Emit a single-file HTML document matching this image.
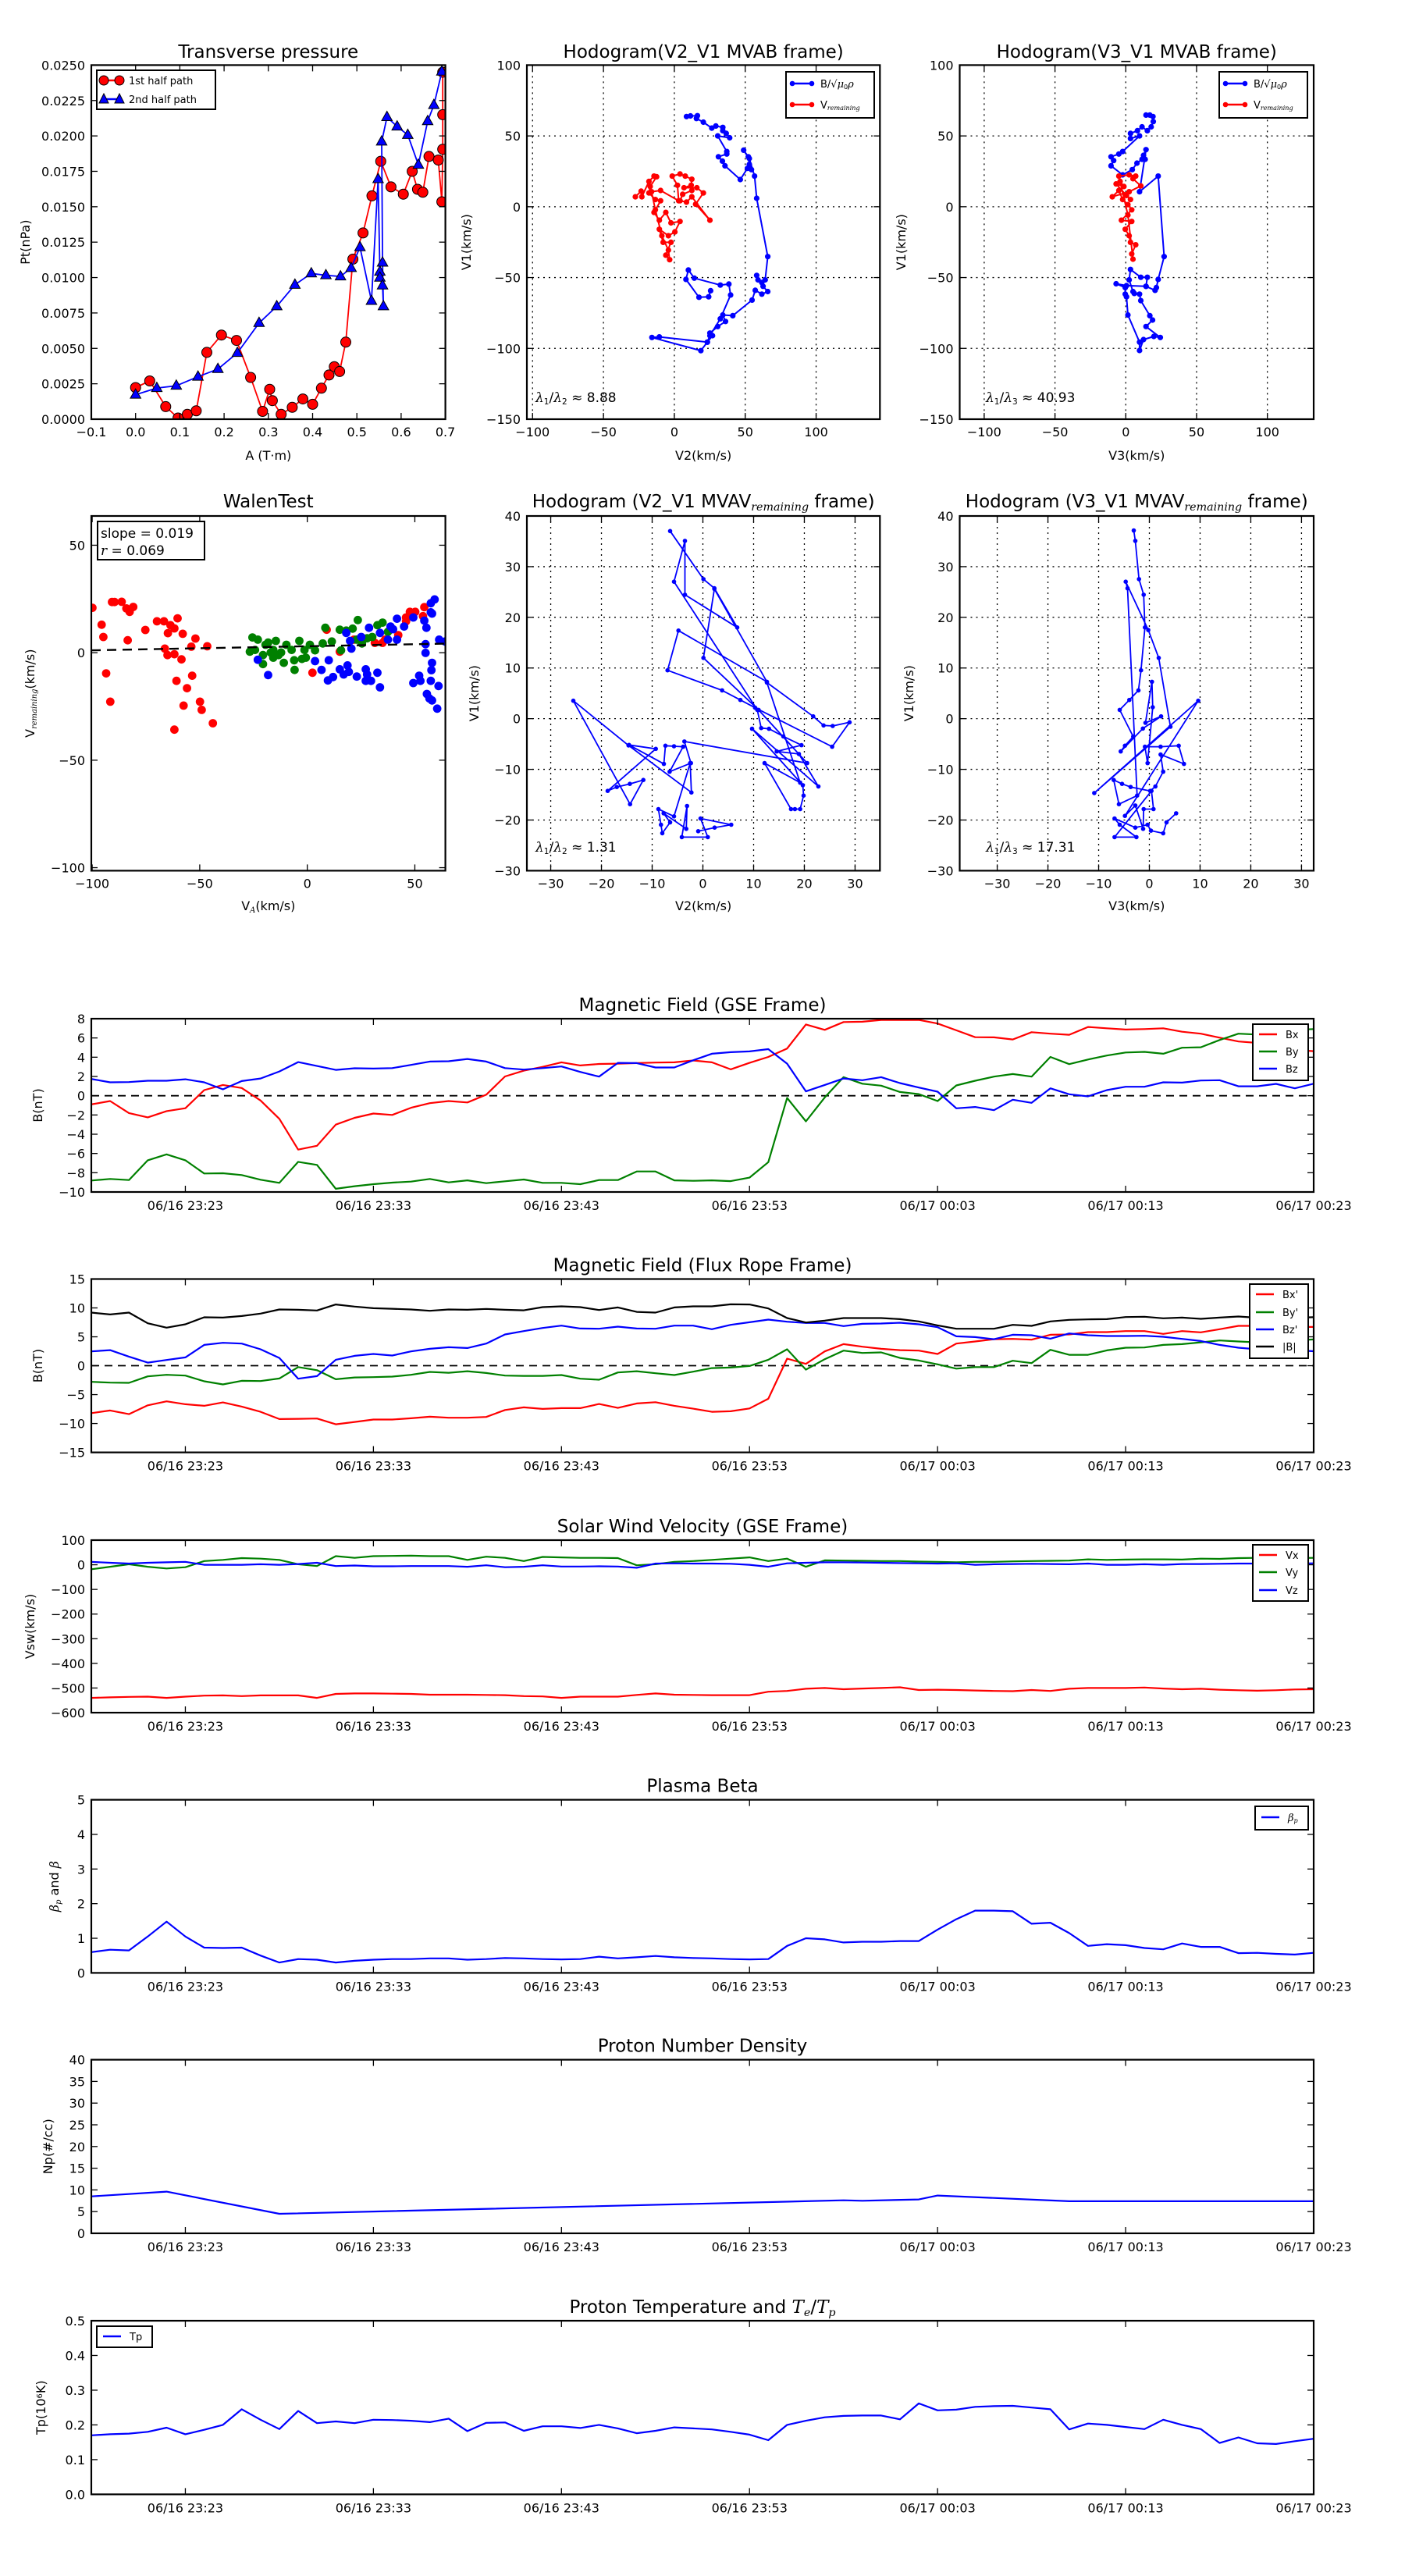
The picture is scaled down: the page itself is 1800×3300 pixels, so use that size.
<!DOCTYPE html>
<html><head><meta charset="utf-8"><title>Flux rope analysis</title>
<style>
html,body{margin:0;padding:0;background:#fff;}
svg{display:block;font-family:"DejaVu Sans","Liberation Sans",sans-serif;}
</style></head>
<body>
<svg id="fig" xmlns="http://www.w3.org/2000/svg" width="1800" height="3300" viewBox="0 0 1800 3300">
<rect x="0" y="0" width="1800" height="3300" fill="#fff"/>
</svg>
<script>
// ---------------- DATA ----------------
const p1A = [0.0,0.032,0.068,0.096,0.117,0.137,0.161,0.194,0.228,0.26,0.287,0.303,0.309,0.329,0.354,0.378,0.4,0.42,0.437,0.449,0.461,0.475,0.491,0.514,0.534,0.554,0.577,0.605,0.625,0.637,0.649,0.663,0.684,0.692,0.694,0.694,0.694];
const p1Pt = [0.00223,0.0027,0.00089,0.00008,0.00034,0.00059,0.00472,0.00594,0.00556,0.00295,0.00055,0.00211,0.00131,0.00034,0.00084,0.00143,0.00105,0.00219,0.00312,0.00371,0.00337,0.00544,0.0113,0.01315,0.01577,0.01821,0.0164,0.01589,0.0175,0.01623,0.01602,0.01855,0.0183,0.01535,0.01906,0.0215,0.0245];
const p2A = [0.0,0.048,0.092,0.141,0.186,0.23,0.279,0.319,0.36,0.397,0.43,0.463,0.487,0.507,0.533,0.548,0.552,0.552,0.558,0.56,0.558,0.556,0.568,0.591,0.615,0.639,0.66,0.674,0.692];
const p2Pt = [0.00173,0.0022,0.00236,0.003,0.00354,0.00468,0.00679,0.00797,0.00949,0.01029,0.01016,0.01008,0.01067,0.01214,0.00835,0.01695,0.01041,0.00999,0.00944,0.00797,0.01105,0.0196,0.02133,0.02066,0.02007,0.01796,0.02104,0.02218,0.02454];

const h1bV2 = [8.6,11.4,16.3,15.6,20.5,26.4,29.3,34.2,34.2,36.6,39.0,30.6,37.0,37.0,31.1,33.9,35.7,46.5,51.6,54.4,52.9,52.2,48.9,52.9,56.6,58.1,65.9,64.1,61.7,58.1,59.0,62.6,65.9,61.7,57.1,54.8,41.2,34.2,36.1,30.6,25.1,26.9,23.3,18.7,-15.8,-10.6,23.3,25.1,32.4,39.7,38.5,32.4,14.1,9.9,8.2,17.4,24.2,25.6];
const h1bV1 = [63.7,64.1,64.3,62.3,59.7,55.5,57.0,56.0,53.7,51.8,48.7,50.0,39.0,37.2,35.3,32.2,28.9,19.2,27.1,26.2,29.9,35.3,39.9,34.1,21.6,6.0,-35.2,-51.6,-53.5,-48.5,-51.6,-56.2,-59.9,-61.7,-59.0,-65.9,-76.9,-76.4,-81.0,-84.6,-89.2,-91.0,-95.6,-101.6,-92.3,-91.9,-95.6,-91.0,-79.1,-62.3,-54.6,-55.3,-50.4,-44.7,-51.3,-63.9,-63.6,-59.3];
const h1rV2 = [-27.5,-23.4,-22.9,-17.9,-14.3,-12.5,-17.0,-17.9,-13.4,-9.7,-14.3,-10.6,-6.0,-2.4,4.0,0.4,-4.2,-10.6,-7.9,-2.4,-6.0,-3.3,-4.2,-8.8,-13.4,-16.1,-9.7,3.1,2.2,-1.5,4.0,7.7,12.3,11.9,6.8,15.9,20.5,15.0,25.1,12.3,8.6,4.0,5.9,12.3];
const h1rV1 = [7.0,11.0,7.0,17.9,21.6,21.2,14.3,9.7,5.1,4.2,-4.0,-9.5,-4.0,-11.4,-10.4,-17.8,-20.5,-15.9,-25.1,-25.1,-34.2,-37.4,-30.6,-20.5,-2.2,10.6,11.5,4.2,15.2,21.6,23.1,21.6,19.4,15.2,13.4,13.4,9.7,1.8,-9.5,7.0,3.3,4.2,8.8,11.5];

const h2bV3 = [14.3,17.0,19.2,19.4,17.9,15.2,11.5,8.2,3.3,3.3,9.7,-2.2,-4.9,-10.4,-8.6,-10.4,-2.2,4.6,7.9,11.5,13.7,12.5,14.3,9.7,22.9,27.1,22.9,21.6,20.7,14.3,0.5,-6.8,-0.4,-0.4,0.5,1.5,9.7,9.7,12.5,19.8,24.4,14.3,18.9,17.0,10.6,9.7,6.0,5.1,2.4,3.3,10.6,15.2,14.3];
const h2bV1 = [64.7,64.7,63.7,60.1,56.4,53.7,56.4,53.7,51.8,48.2,50.0,39.0,37.2,35.3,32.6,28.9,22.5,26.2,30.8,33.5,33.5,36.3,40.3,10.6,21.6,-35.2,-51.3,-57.1,-59.0,-56.2,-55.7,-54.4,-57.1,-61.7,-63.6,-76.4,-95.6,-101.5,-93.8,-91.6,-92.3,-84.6,-80.0,-76.9,-66.3,-61.7,-61.2,-59.9,-51.6,-44.3,-49.8,-49.8,-56.2];
const h2rV3 = [-4.9,2.4,7.0,5.1,10.6,2.4,-9.5,-4.9,-2.2,1.5,4.2,-3.1,4.2,-0.4,2.4,3.3,7.0,4.2,5.1,1.5,-4.0,-1.3,-6.8,0.5,3.3];
const h2rV1 = [21.6,22.5,21.6,19.8,14.7,10.6,7.0,11.5,5.1,1.5,-2.2,-9.5,-10.4,-15.9,-20.5,-25.1,-26.9,-33.3,-37.0,-5.9,17.9,14.3,16.1,7.9,5.1];

const h3V2 = [-6.46,0.10,2.26,6.77,-3.54,-3.54,-5.69,10.72,11.49,13.03,15.85,19.44,14.56,18.92,22.77,9.69,19.69,19.85,19.18,18.15,17.38,12.15,19.18,12.62,21.74,23.79,25.59,28.92,25.49,10.31,7.38,3.79,-6.97,-4.82,12.62,2.26,0.10,10.97,20.56,-3.64,-2.36,-6.56,-3.9,-5.69,-7.38,-7.69,-14.56,-9.28,-18.77,-16.97,-14.41,-11.74,-14.36,-25.54,-14.67,-2.26,-2.51,-5.69,-8.77,-8.26,-8.0,-6.46,-7.74,-3.28,-3.13,-4.15,0.97,-0.46,5.59,2.31,-0.92];
const h3V1 = [37.03,27.54,25.74,18.0,24.46,35.08,27.03,1.74,-1.85,-2.0,-3.49,-5.23,-6.46,-6.97,-13.38,-2.0,-13.13,-15.18,-17.85,-17.85,-17.85,-8.77,-12.62,7.13,0.46,-1.33,-1.44,-0.72,-5.54,2.15,3.69,5.59,9.54,17.38,7.28,25.59,12.0,1.74,-8.77,-4.51,-8.77,-10.46,-5.54,-5.44,-5.33,-8.92,-5.18,-5.95,-14.26,-13.49,-12.87,-12.1,-16.87,3.54,-5.28,-14.56,-8.77,-19.28,-17.85,-20.92,-22.6,-20.46,-18.67,-21.74,-17.23,-23.38,-23.38,-19.69,-20.92,-21.49,-22.21];

const h4V3 = [-3.08,-2.77,-2.05,-1.13,-0.87,-1.64,-2.15,-3.95,-5.85,-3.18,-4.82,-5.64,-1.28,2.31,-0.77,0.51,0.67,-0.36,-0.87,2.21,5.79,6.82,2.21,2.72,1.18,0.15,-3.69,-5.38,-7.03,-6.0,-2.41,-4.31,-4.67,-0.21,1.85,4.15,-10.87,9.64,-4.82,-2.77,-1.23,-1.13,0.82,0.41,-6.87,-2.56,-5.85,-6.87,-2.77,-0.36,0.31,2.72,3.38,5.28];
const h4V1 = [37.13,35.08,27.54,24.46,18.0,9.54,5.59,3.69,1.74,-3.54,-5.33,-6.46,-1.95,0.46,-0.82,7.28,2.26,-8.77,-5.54,-5.54,-5.33,-8.92,-7.08,-10.46,-13.38,-14.26,-13.49,-12.87,-12.1,-16.87,-15.18,25.74,27.03,17.49,12.0,-1.59,-14.67,3.54,-19.18,-17.13,-21.74,-17.85,-17.85,-14.26,-23.38,-23.38,-20.92,-19.69,-21.49,-20.92,-22.1,-22.62,-20.46,-18.67];

const walenRedVA = [-99.9,-90.8,-89.6,-86.3,-84.1,-82.6,-80.9,-95.6,-94.8,-83.5,-75.3,-69.9,-66.6,-63.6,-61.8,-64.8,-60.3,-57.9,-52.0,-53.9,-46.5,-66.2,-65.0,-61.8,-58.5,-93.5,-91.6,-60.8,-55.9,-53.5,-57.5,-49.9,-49.1,-43.9,-61.8,2.4,9.0,15.1,21.7,31.4,35.0,42.3,45.9,47.7,50.2,53.8,54.4,45.9,36.2];
const walenRedV = [20.9,23.6,23.6,23.7,20.6,19.0,21.3,13.0,7.3,5.8,10.6,14.6,14.6,12.8,11.3,9.1,16.0,8.8,6.6,2.8,3.0,1.9,-1.1,-0.7,-3.1,-9.6,-22.8,-13.1,-16.5,-10.7,-24.6,-22.8,-26.6,-32.8,-35.8,-9.3,10.7,0.5,6.1,4.6,4.6,8.2,16.4,19.0,19.0,17.0,21.2,14.6,6.1];
const walenGreenVA = [-25.5,-23.0,-24.3,-26.7,-20.6,-19.4,-18.2,-14.6,-17.0,-15.8,-13.4,-10.9,-9.7,-7.3,-6.1,-5.9,-3.7,-2.5,-0.7,1.2,3.6,-1.3,-20.6,7.2,8.4,11.4,15.1,15.7,18.1,21.1,23.5,22.9,25.4,27.8,30.2,32.6,35.0,37.5,-12.2,-15.8];
const walenGreenV = [7.1,6.1,1.3,0.5,-1.1,3.7,4.7,5.5,0.1,-2.3,-1.1,-4.7,3.7,1.3,-3.5,-8.0,5.5,-2.9,-2.3,3.7,1.1,1.3,-5.3,4.3,11.6,5.2,10.7,1.1,10.3,11.2,15.2,6.1,4.3,6.7,7.3,12.8,14.0,9.7,0.1,1.3];
const walenBlueVA = [-23.0,-18.2,3.6,6.6,10.0,9.6,12.0,15.1,16.9,18.7,19.3,23.0,27.2,27.8,29.6,32.6,33.8,27.2,18.1,20.5,19.9,25.1,28.7,33.8,37.5,38.7,41.7,41.7,45.0,49.3,39.9,54.4,55.4,57.4,57.4,59.2,55.0,55.0,58.0,57.7,52.0,49.3,52.6,57.4,61.0,55.6,56.8,58.0,60.4,61.3,64.1,58.0];
const walenBlueV = [-3.3,-10.4,-3.9,-8.0,-3.5,-12.9,-11.3,-7.7,-10.1,-5.9,-8.9,-11.1,-7.7,-10.1,-13.1,-9.3,-16.1,-13.1,9.2,1.9,5.5,7.3,11.6,9.2,6.1,12.2,6.1,15.8,12.2,16.4,10.9,14.9,11.6,18.8,23.0,24.8,3.97,-0.1,-4.7,-8.1,-10.7,-14.1,-13.1,-13.1,-15.5,-19.2,-21.3,-22.2,-26.0,6.1,5.2,18.2];
const walenSlope = 0.019;
const walenIntercept = 3.0;

const timeTickLabels = ["06/16 23:23","06/16 23:33","06/16 23:43","06/16 23:53","06/17 00:03","06/17 00:13","06/17 00:23"];
const timeTickMinutes = [5,15,25,35,45,55,65];
const gseBx = [-0.9,-0.55,-1.8,-2.25,-1.6,-1.3,0.58,1.12,0.8,-0.5,-2.4,-5.6,-5.2,-3.0,-2.3,-1.85,-2.0,-1.25,-0.77,-0.55,-0.7,0.1,2.0,2.6,3.0,3.47,3.14,3.3,3.33,3.39,3.44,3.47,3.66,3.47,2.74,3.41,4.03,4.9,7.4,6.84,7.65,7.68,7.87,7.87,7.87,7.5,6.79,6.08,6.06,5.84,6.6,6.44,6.33,7.14,7.0,6.87,6.92,7.0,6.65,6.44,6.03,5.63,5.49,5.17,4.76,4.63];
const gseBy = [-8.81,-8.65,-8.76,-6.71,-6.09,-6.71,-8.08,-8.05,-8.24,-8.73,-9.05,-6.87,-7.19,-9.67,-9.4,-9.19,-9.03,-8.92,-8.65,-9.0,-8.79,-9.08,-8.89,-8.7,-9.05,-9.05,-9.19,-8.76,-8.76,-7.87,-7.87,-8.79,-8.84,-8.79,-8.87,-8.51,-6.9,-0.23,-2.66,-0.18,1.93,1.25,1.04,0.39,0.17,-0.55,1.07,1.55,1.98,2.25,1.98,4.03,3.28,3.76,4.17,4.49,4.55,4.36,4.98,5.03,5.79,6.44,6.35,6.73,6.84,6.92];
const gseBz = [1.74,1.39,1.42,1.55,1.55,1.71,1.39,0.66,1.52,1.79,2.52,3.49,3.09,2.68,2.85,2.82,2.87,3.2,3.55,3.58,3.82,3.55,2.87,2.71,2.87,3.04,2.47,1.98,3.41,3.39,2.93,2.93,3.68,4.36,4.52,4.6,4.84,3.33,0.45,1.12,1.79,1.61,1.93,1.31,0.85,0.42,-1.31,-1.17,-1.5,-0.42,-0.74,0.77,0.15,-0.07,0.58,0.93,0.93,1.39,1.36,1.58,1.61,0.98,0.98,1.23,0.77,1.25];
const frBx = [-8.2,-7.75,-8.38,-6.85,-6.17,-6.67,-6.94,-6.35,-7.07,-7.97,-9.23,-9.19,-9.14,-10.14,-9.73,-9.32,-9.32,-9.1,-8.83,-9.0,-9.0,-8.87,-7.66,-7.2,-7.48,-7.34,-7.34,-6.62,-7.3,-6.53,-6.31,-6.94,-7.43,-7.97,-7.88,-7.39,-5.72,1.22,0.32,2.48,3.74,3.29,2.93,2.7,2.61,2.03,3.83,4.19,4.59,4.64,4.5,5.36,5.41,5.81,5.81,5.99,5.99,5.5,5.99,5.77,6.31,6.89,6.9,6.6,6.7,6.7];
const frBy = [-2.79,-2.93,-2.97,-1.85,-1.58,-1.71,-2.7,-3.24,-2.61,-2.66,-2.21,-0.23,-0.77,-2.34,-2.03,-1.98,-1.89,-1.58,-1.08,-1.22,-0.95,-1.26,-1.71,-1.76,-1.76,-1.62,-2.25,-2.43,-1.17,-0.95,-1.31,-1.62,-1.04,-0.41,-0.32,-0.05,1.04,2.84,-0.68,1.13,2.61,2.21,2.3,1.35,0.9,0.23,-0.5,-0.23,-0.23,0.86,0.45,2.75,1.89,1.89,2.66,3.11,3.15,3.6,3.74,4.05,4.37,4.19,4.05,4.05,4.37,4.55];
const frBz = [2.48,2.7,1.58,0.54,0.99,1.44,3.6,3.96,3.83,2.84,1.35,-2.25,-1.8,1.04,1.71,2.03,1.76,2.48,2.93,3.2,3.06,3.83,5.41,5.99,6.53,6.94,6.44,6.4,6.76,6.44,6.4,6.94,6.94,6.31,7.07,7.52,7.97,7.61,7.39,7.39,6.85,7.25,7.3,7.43,7.16,6.67,5.09,4.95,4.59,5.36,5.27,4.68,5.59,5.27,5.14,5.14,5.18,5.0,4.64,4.28,3.6,3.11,2.84,2.6,2.7,2.5];
const frBt = [9.19,8.87,9.19,7.34,6.58,7.16,8.38,8.33,8.6,9.01,9.73,9.68,9.55,10.59,10.23,9.95,9.86,9.73,9.5,9.73,9.68,9.82,9.68,9.59,10.14,10.27,10.14,9.64,10.09,9.32,9.19,10.09,10.27,10.27,10.63,10.59,9.91,8.24,7.48,7.79,8.24,8.24,8.24,8.06,7.66,6.98,6.4,6.4,6.4,7.07,6.89,7.66,7.93,8.02,8.06,8.42,8.47,8.2,8.33,8.11,8.33,8.51,8.3,8.4,8.3,8.4];
const vswVx = [-540,-538,-536,-535,-540,-535,-531,-530,-533,-530,-530,-530,-540,-524,-522,-522,-523,-524,-527,-527,-527,-528,-529,-533,-534,-540,-535,-535,-535,-528,-522,-527,-528,-529,-529,-529,-515,-512,-503,-500,-505,-502,-500,-497,-508,-507,-508,-510,-512,-513,-508,-512,-503,-500,-500,-500,-498,-502,-505,-503,-507,-509,-511,-509,-506,-505];
const vswVy = [-18,-8,2,-8,-15,-10,15,20,27,25,20,2,-5,35,28,35,36,37,35,35,20,33,28,15,32,30,28,28,27,-2,2,12,15,20,25,30,15,25,-8,18,17,16,15,15,13,12,10,12,12,14,15,16,17,22,20,21,22,22,21,25,24,27,28,28,27,28];
const vswVz = [12,8,5,8,10,12,0,0,0,2,0,3,8,-5,-3,-6,-6,-5,-5,-5,-8,-2,-10,-8,-2,-7,-7,-6,-7,-12,5,6,5,5,4,0,-8,6,8,10,10,9,8,7,6,5,6,0,2,3,4,3,2,5,0,0,2,0,3,3,4,5,5,7,5,6];
const betaP = [0.6,0.67,0.65,1.05,1.48,1.05,0.73,0.72,0.73,0.5,0.3,0.4,0.38,0.3,0.35,0.38,0.4,0.4,0.42,0.42,0.38,0.4,0.43,0.42,0.4,0.39,0.4,0.47,0.42,0.45,0.49,0.45,0.43,0.42,0.4,0.39,0.4,0.78,1.0,0.97,0.88,0.9,0.9,0.92,0.92,1.25,1.55,1.8,1.8,1.78,1.42,1.45,1.15,0.78,0.83,0.8,0.72,0.68,0.85,0.75,0.75,0.57,0.58,0.55,0.53,0.58];
const npMinutes = [0,4,10,40,41,44,45,52,65];
const npValues = [8.5,9.6,4.5,7.6,7.5,7.8,8.7,7.4,7.4];
const tpValues = [0.17,0.173,0.175,0.18,0.192,0.173,0.186,0.2,0.245,0.215,0.188,0.24,0.205,0.21,0.205,0.215,0.214,0.212,0.208,0.218,0.182,0.206,0.207,0.183,0.196,0.196,0.191,0.2,0.19,0.176,0.183,0.193,0.19,0.187,0.18,0.172,0.156,0.2,0.212,0.222,0.226,0.227,0.227,0.216,0.262,0.242,0.244,0.252,0.254,0.255,0.25,0.245,0.187,0.204,0.2,0.194,0.188,0.215,0.2,0.188,0.148,0.164,0.147,0.145,0.153,0.16];

// ---------------- DRAWING ----------------
const NS = 'http://www.w3.org/2000/svg';
const svg = document.getElementById('fig');
const TITLE = 23;
function el(tag, parent){ const e = document.createElementNS(NS, tag); parent.appendChild(e); return e; }
function fmtNum(v, d){ const s = Math.abs(v).toFixed(d); return (v < -1e-12 ? '\u2212' : '') + s; }
function rng(a,b,s){ const r=[]; for(let v=a; v<=b+1e-9; v+=s) r.push(+v.toFixed(6)); return r; }

function addText(parent, name, x, y, parts, size, anchor, rot){
  const t = el('text', parent);
  
  
  t.setAttribute('x', x); t.setAttribute('y', y);
  t.setAttribute('font-size', size);
  t.setAttribute('text-anchor', anchor || 'start');
  t.setAttribute('fill', '#000');
  if (rot) t.setAttribute('transform', 'rotate(-90 ' + x + ' ' + y + ')');
  if (typeof parts === 'string') { t.textContent = parts; return t; }
  parts.forEach(p => {
    const s = el('tspan', t);
    s.textContent = p[0];
    const k = p[1] || '';
    if (k.indexOf('it') >= 0) { s.setAttribute('font-style', 'italic'); s.setAttribute('font-family', 'DejaVu Serif, Liberation Serif, serif'); }
    if (k.indexOf('sub') >= 0) { s.setAttribute('font-size', size * 0.62); s.setAttribute('baseline-shift', '-25%'); }
    if (k === 'sup') { s.setAttribute('font-size', size * 0.62); s.setAttribute('baseline-shift', '40%'); }
  });
  return t;
}

let clipN = 0;
function makeAxes(name, L, T, R, B, xlim, ylim){
  const g = el('g', svg);
  
  
  const id = 'clip' + (clipN++);
  const cp = el('clipPath', g); cp.setAttribute('id', id);
  const cr = el('rect', cp); cr.setAttribute('x', L); cr.setAttribute('y', T); cr.setAttribute('width', R-L); cr.setAttribute('height', B-T);
  const data = el('g', g);
  data.setAttribute('clip-path', 'url(#' + id + ')');
  
  
  return { g, data, L, T, R, B,
    sx: v => L + (v - xlim[0]) / (xlim[1] - xlim[0]) * (R - L),
    sy: v => B - (v - ylim[0]) / (ylim[1] - ylim[0]) * (B - T) };
}

function ticks(ax, xt, xl, yt, yl, grid, xlabY){
  const g = el('g', ax.g);
  
  
  xt.forEach((v,i) => {
    const x = ax.sx(v);
    if (grid) { const gl = el('line', ax.data);  
      gl.setAttribute('x1',x); gl.setAttribute('x2',x); gl.setAttribute('y1',ax.T); gl.setAttribute('y2',ax.B);
      gl.setAttribute('stroke','#000'); gl.setAttribute('stroke-width','1.3'); gl.setAttribute('stroke-dasharray','2,5'); }
    [[ax.B, ax.B-8],[ax.T, ax.T+8]].forEach(p => { const l = el('line', g);
      l.setAttribute('x1',x); l.setAttribute('x2',x); l.setAttribute('y1',p[0]); l.setAttribute('y2',p[1]);
      l.setAttribute('stroke','#000'); l.setAttribute('stroke-width','1.3'); });
    addText(g, 'x-tick-label', x, ax.B + (xlabY || 22), xl[i], 16, 'middle');
  });
  yt.forEach((v,i) => {
    const y = ax.sy(v);
    if (grid) { const gl = el('line', ax.data);  
      gl.setAttribute('x1',ax.L); gl.setAttribute('x2',ax.R); gl.setAttribute('y1',y); gl.setAttribute('y2',y);
      gl.setAttribute('stroke','#000'); gl.setAttribute('stroke-width','1.3'); gl.setAttribute('stroke-dasharray','2,5'); }
    [[ax.L, ax.L+8],[ax.R, ax.R-8]].forEach(p => { const l = el('line', g);
      l.setAttribute('y1',y); l.setAttribute('y2',y); l.setAttribute('x1',p[0]); l.setAttribute('x2',p[1]);
      l.setAttribute('stroke','#000'); l.setAttribute('stroke-width','1.3'); });
    addText(g, 'y-tick-label', ax.L - 8, y + 6, yl[i], 16, 'end');
  });
}
function frame(ax){
  const r = el('rect', ax.g);
  
  
  r.setAttribute('x', ax.L); r.setAttribute('y', ax.T); r.setAttribute('width', ax.R-ax.L); r.setAttribute('height', ax.B-ax.T);
  r.setAttribute('fill','none'); r.setAttribute('stroke','#000'); r.setAttribute('stroke-width','2.2');
}
function line(ax, name, xs, ys, color, w, dash){
  const p = el('polyline', ax.data);
  
  
  p.setAttribute('points', xs.map((x,i) => ax.sx(x).toFixed(1) + ',' + ax.sy(ys[i]).toFixed(1)).join(' '));
  p.setAttribute('fill','none'); p.setAttribute('stroke', color); p.setAttribute('stroke-width', w);
  p.setAttribute('stroke-linejoin','round');
  if (dash) p.setAttribute('stroke-dasharray', dash);
  return p;
}
function dots(ax, name, xs, ys, color, r, edge){
  const g = el('g', ax.data);
  
  
  xs.forEach((x,i) => { const c = el('circle', g);
    
    
    c.setAttribute('cx', ax.sx(x).toFixed(1)); c.setAttribute('cy', ax.sy(ys[i]).toFixed(1)); c.setAttribute('r', r);
    c.setAttribute('fill', color); if (edge) { c.setAttribute('stroke', edge); c.setAttribute('stroke-width','1'); } });
}
function tris(ax, name, xs, ys, color, s){
  const g = el('g', ax.data);
  
  
  xs.forEach((x,i) => { const cx = ax.sx(x), cy = ax.sy(ys[i]); const p = el('polygon', g);
    
    
    p.setAttribute('points', cx+','+(cy-s)+' '+(cx-s*0.9)+','+(cy+s*0.6)+' '+(cx+s*0.9)+','+(cy+s*0.6));
    p.setAttribute('fill', color); p.setAttribute('stroke','#000'); p.setAttribute('stroke-width','1'); });
}
function legendBox(parent, x, y, w, h){
  const r = el('rect', parent);
  
  
  r.setAttribute('x', x); r.setAttribute('y', y); r.setAttribute('width', w); r.setAttribute('height', h);
  r.setAttribute('fill','#fff'); r.setAttribute('stroke','#000'); r.setAttribute('stroke-width','2');
}
function legLine(parent, x1, x2, y, color, marker){
  const l = el('line', parent);
  
  
  l.setAttribute('x1', x1); l.setAttribute('x2', x2); l.setAttribute('y1', y); l.setAttribute('y2', y);
  l.setAttribute('stroke', color); l.setAttribute('stroke-width', '2.4');
  if (marker) [x1, x2].forEach(cx => { const c = el('circle', parent); c.setAttribute('cx', cx); c.setAttribute('cy', y); c.setAttribute('r', marker); c.setAttribute('fill', color); });
}

const R1T = 83.4, R1B = 537, R2T = 661, R2B = 1115.4;
const CA = [117, 570.6], CB = [675, 1127.3], CC = [1229.5, 1683];

{
  const ax = makeAxes('transverse-pressure-chart', CA[0], R1T, CA[1], R1B, [-0.1,0.7], [0,0.025]);
  const xt = rng(-0.1,0.7,0.1), yt = rng(0,0.025,0.0025);
  ticks(ax, xt, xt.map(v => fmtNum(v,1)), yt, yt.map(v => v.toFixed(4)), false);
  line(ax, 'first-half-path-line', p1A, p1Pt, '#ff0000', 1.8);
  dots(ax, 'first-half-path', p1A, p1Pt, '#ff0000', 6.5, '#000');
  line(ax, 'second-half-path-line', p2A, p2Pt, '#0000ff', 1.8);
  tris(ax, 'second-half-path', p2A, p2Pt, '#0000ff', 7.5);
  frame(ax);
  addText(ax.g, 'chart-title', (CA[0]+CA[1])/2, 74, 'Transverse pressure', TITLE, 'middle');
  addText(ax.g, 'x-axis-title', (CA[0]+CA[1])/2, 589, 'A (T\u00b7m)', 16, 'middle');
  addText(ax.g, 'y-axis-title', 38, (R1T+R1B)/2, 'Pt(nPa)', 16, 'middle', true);
  const lg = el('g', ax.g);
  
  
  legendBox(lg, 124, 90, 152, 50);
  legLine(lg, 133, 153, 103, '#ff0000', 0);
  [133,153].forEach(cx => { const c = el('circle', lg); c.setAttribute('cx', cx); c.setAttribute('cy', 103); c.setAttribute('r', 6); c.setAttribute('fill','#ff0000'); c.setAttribute('stroke','#000'); });
  addText(lg, 'legend-entry', 165, 108, '1st half path', 13, 'start');
  legLine(lg, 133, 153, 127, '#0000ff', 0);
  [133,153].forEach(cx => { const p = el('polygon', lg); p.setAttribute('points', cx+','+(127-7)+' '+(cx-6)+','+(127+5)+' '+(cx+6)+','+(127+5)); p.setAttribute('fill','#0000ff'); p.setAttribute('stroke','#000'); });
  addText(lg, 'legend-entry', 165, 132, '2nd half path', 13, 'start');
}

function hodoLegend(ax, x){
  const lg = el('g', ax.g);
  
  
  legendBox(lg, x, 92, 113, 59);
  legLine(lg, x+8, x+33, 107, '#0000ff', 3.3);
  addText(lg, 'legend-entry', x+44, 112, [['B/\u221a',''],['\u03bc','it'],['0','sub'],['\u03c1','it']], 13, 'start');
  legLine(lg, x+8, x+33, 134, '#ff0000', 3.3);
  addText(lg, 'legend-entry', x+44, 139, [['V',''],['remaining','itsub']], 13, 'start');
}

{
  const ax = makeAxes('hodogram-v2-v1-mvab-chart', CB[0], R1T, CB[1], R1B, [-104,145], [-150,100]);
  const xt = [-100,-50,0,50,100], yt = [-150,-100,-50,0,50,100];
  ticks(ax, xt, xt.map(v => fmtNum(v,0)), yt, yt.map(v => fmtNum(v,0)), true);
  line(ax, 'b-field-path', h1bV2, h1bV1, '#0000ff', 2);
  dots(ax, 'b-field-points', h1bV2, h1bV1, '#0000ff', 3.6);
  line(ax, 'v-remaining-path', h1rV2, h1rV1, '#ff0000', 2);
  dots(ax, 'v-remaining-points', h1rV2, h1rV1, '#ff0000', 3.6);
  frame(ax);
  addText(ax.g, 'chart-title', (CB[0]+CB[1])/2, 74, 'Hodogram(V2_V1 MVAB frame)', TITLE, 'middle');
  addText(ax.g, 'x-axis-title', (CB[0]+CB[1])/2, 589, 'V2(km/s)', 16, 'middle');
  addText(ax.g, 'y-axis-title', 603, (R1T+R1B)/2, 'V1(km/s)', 16, 'middle', true);
  addText(ax.g, 'eigenvalue-ratio', 686, 515, [['\u03bb','it'],['1','sub'],['/',''],['\u03bb','it'],['2','sub'],[' \u2248 8.88','']], 17, 'start');
  hodoLegend(ax, 1007);
}
{
  const ax = makeAxes('hodogram-v3-v1-mvab-chart', CC[0], R1T, CC[1], R1B, [-117.3,132.7], [-150,100]);
  const xt = [-100,-50,0,50,100], yt = [-150,-100,-50,0,50,100];
  ticks(ax, xt, xt.map(v => fmtNum(v,0)), yt, yt.map(v => fmtNum(v,0)), true);
  line(ax, 'b-field-path', h2bV3, h2bV1, '#0000ff', 2);
  dots(ax, 'b-field-points', h2bV3, h2bV1, '#0000ff', 3.6);
  line(ax, 'v-remaining-path', h2rV3, h2rV1, '#ff0000', 2);
  dots(ax, 'v-remaining-points', h2rV3, h2rV1, '#ff0000', 3.6);
  frame(ax);
  addText(ax.g, 'chart-title', (CC[0]+CC[1])/2, 74, 'Hodogram(V3_V1 MVAB frame)', TITLE, 'middle');
  addText(ax.g, 'x-axis-title', (CC[0]+CC[1])/2, 589, 'V3(km/s)', 16, 'middle');
  addText(ax.g, 'y-axis-title', 1160, (R1T+R1B)/2, 'V1(km/s)', 16, 'middle', true);
  addText(ax.g, 'eigenvalue-ratio', 1263, 515, [['\u03bb','it'],['1','sub'],['/',''],['\u03bb','it'],['3','sub'],[' \u2248 40.93','']], 17, 'start');
  hodoLegend(ax, 1562);
}
{
  const ax = makeAxes('walen-test-chart', CA[0], R2T, CA[1], R2B, [-100.4,64.2], [-101.4,63.6]);
  const xt = [-100,-50,0,50], yt = [-100,-50,0,50];
  ticks(ax, xt, xt.map(v => fmtNum(v,0)), yt, yt.map(v => fmtNum(v,0)), false);
  dots(ax, 'walen-first-points', walenRedVA, walenRedV, '#ff0000', 5.4);
  dots(ax, 'walen-middle-points', walenGreenVA, walenGreenV, '#008000', 5.4);
  dots(ax, 'walen-last-points', walenBlueVA, walenBlueV, '#0000ff', 5.4);
  const fx = [-100.4, 64.2];
  line(ax, 'walen-fit-line', fx, fx.map(v => walenSlope*v + walenIntercept), '#000', 2.4, '12,8');
  frame(ax);
  addText(ax.g, 'chart-title', (CA[0]+CA[1])/2, 650, 'WalenTest', TITLE, 'middle');
  addText(ax.g, 'x-axis-title', (CA[0]+CA[1])/2, 1166, [['V',''],['A','itsub'],['(km/s)','']], 16, 'middle');
  addText(ax.g, 'y-axis-title', 44, (R2T+R2B)/2, [['V',''],['remaining','itsub'],['(km/s)','']], 16, 'middle', true);
  const bx = el('g', ax.g);
  
  
  legendBox(bx, 125, 668, 137, 49);
  addText(bx, 'slope-text', 129, 689, 'slope = 0.019', 17, 'start');
  addText(bx, 'r-text', 129, 711, [['r','it'],[' = 0.069','']], 17, 'start');
}
{
  const ax = makeAxes('hodogram-v2-v1-mvav-chart', CB[0], R2T, CB[1], R2B, [-34.7,34.9], [-30,40]);
  const xt = [-30,-20,-10,0,10,20,30], yt = [-30,-20,-10,0,10,20,30,40];
  ticks(ax, xt, xt.map(v => fmtNum(v,0)), yt, yt.map(v => fmtNum(v,0)), true);
  line(ax, 'v-path', h3V2, h3V1, '#0000ff', 1.8);
  dots(ax, 'v-points', h3V2, h3V1, '#0000ff', 2.8);
  frame(ax);
  addText(ax.g, 'chart-title', (CB[0]+CB[1])/2, 650, [['Hodogram (V2_V1 MVAV',''],['remaining','itsub'],[' frame)','']], TITLE, 'middle');
  addText(ax.g, 'x-axis-title', (CB[0]+CB[1])/2, 1166, 'V2(km/s)', 16, 'middle');
  addText(ax.g, 'y-axis-title', 613, (R2T+R2B)/2, 'V1(km/s)', 16, 'middle', true);
  addText(ax.g, 'eigenvalue-ratio', 686, 1091, [['\u03bb','it'],['1','sub'],['/',''],['\u03bb','it'],['2','sub'],[' \u2248 1.31','']], 17, 'start');
}
{
  const ax = makeAxes('hodogram-v3-v1-mvav-chart', CC[0], R2T, CC[1], R2B, [-37.4,32.4], [-30,40]);
  const xt = [-30,-20,-10,0,10,20,30], yt = [-30,-20,-10,0,10,20,30,40];
  ticks(ax, xt, xt.map(v => fmtNum(v,0)), yt, yt.map(v => fmtNum(v,0)), true);
  line(ax, 'v-path', h4V3, h4V1, '#0000ff', 1.8);
  dots(ax, 'v-points', h4V3, h4V1, '#0000ff', 2.8);
  frame(ax);
  addText(ax.g, 'chart-title', (CC[0]+CC[1])/2, 650, [['Hodogram (V3_V1 MVAV',''],['remaining','itsub'],[' frame)','']], TITLE, 'middle');
  addText(ax.g, 'x-axis-title', (CC[0]+CC[1])/2, 1166, 'V3(km/s)', 16, 'middle');
  addText(ax.g, 'y-axis-title', 1170, (R2T+R2B)/2, 'V1(km/s)', 16, 'middle', true);
  addText(ax.g, 'eigenvalue-ratio', 1263, 1091, [['\u03bb','it'],['1','sub'],['/',''],['\u03bb','it'],['3','sub'],[' \u2248 17.31','']], 17, 'start');
}

const TL = 117, TR = 1683;
const minutes = gseBx.map((v,i) => i);
function tsAxes(name, T, B, ylim, yt, yfmt, title, ylab, ylabX){
  const ax = makeAxes(name, TL, T, TR, B, [0,65], ylim);
  ticks(ax, timeTickMinutes, timeTickLabels, yt, yt.map(yfmt), false, 23);
  addText(ax.g, 'chart-title', (TL+TR)/2, T - 10, title, TITLE, 'middle');
  addText(ax.g, 'y-axis-title', ylabX, (T+B)/2, ylab, 16, 'middle', true);
  return ax;
}
function tsLegend(ax, x, y, w, h, entries, rows){
  const lg = el('g', ax.g);
  
  
  legendBox(lg, x, y, w, h);
  entries.forEach((e,i) => {
    legLine(lg, x+8, x+31, rows[i], e[1], 0);
    addText(lg, 'legend-entry', x+42, rows[i]+5, e[0], 13, 'start');
  });
}
function zeroLine(ax){
  line(ax, 'zero-line', [0,65], [0,0], '#000', 1.8, '10,7');
}
{
  const ax = tsAxes('magnetic-field-gse-chart', 1305, 1527, [-10,8], rng(-10,8,2), v => fmtNum(v,0), 'Magnetic Field (GSE Frame)', 'B(nT)', 54);
  zeroLine(ax);
  line(ax, 'bx-line', minutes, gseBx, '#ff0000', 2.2);
  line(ax, 'by-line', minutes, gseBy, '#008000', 2.2);
  line(ax, 'bz-line', minutes, gseBz, '#0000ff', 2.2);
  tsLegend(ax, 1605, 1312, 71, 72, [['Bx','#ff0000'],['By','#008000'],['Bz','#0000ff']], [1325,1347,1369]);
  frame(ax);
}
{
  const ax = tsAxes('magnetic-field-flux-rope-chart', 1638.5, 1860.6, [-15,15], rng(-15,15,5), v => fmtNum(v,0), 'Magnetic Field (Flux Rope Frame)', 'B(nT)', 54);
  zeroLine(ax);
  line(ax, 'bx-prime-line', minutes, frBx, '#ff0000', 2.2);
  line(ax, 'by-prime-line', minutes, frBy, '#008000', 2.2);
  line(ax, 'bz-prime-line', minutes, frBz, '#0000ff', 2.2);
  line(ax, 'b-magnitude-line', minutes, frBt, '#000000', 2.2);
  tsLegend(ax, 1601, 1645, 75, 95, [["Bx'",'#ff0000'],["By'",'#008000'],["Bz'",'#0000ff'],['|B|','#000']], [1658,1681,1703,1725]);
  frame(ax);
}
{
  const ax = tsAxes('solar-wind-velocity-chart', 1973, 2194, [-600,100], rng(-600,100,100), v => fmtNum(v,0), 'Solar Wind Velocity (GSE Frame)', 'Vsw(km/s)', 44);
  line(ax, 'vx-line', minutes, vswVx, '#ff0000', 2.2);
  line(ax, 'vy-line', minutes, vswVy, '#008000', 2.2);
  line(ax, 'vz-line', minutes, vswVz, '#0000ff', 2.2);
  tsLegend(ax, 1605, 1979, 71, 72, [['Vx','#ff0000'],['Vy','#008000'],['Vz','#0000ff']], [1992,2014,2037]);
  frame(ax);
}
{
  const ax = tsAxes('plasma-beta-chart', 2305.6, 2527.4, [0,5], rng(0,5,1), v => fmtNum(v,0), 'Plasma Beta', [['\u03b2','it'],['p','itsub'],[' and ',''],['\u03b2','it']], 75);
  line(ax, 'beta-p-line', minutes, betaP, '#0000ff', 2.2);
  tsLegend(ax, 1608, 2314, 68, 30, [[[['\u03b2','it'],['p','itsub']],'#0000ff']], [2328]);
  frame(ax);
}
{
  const ax = tsAxes('proton-density-chart', 2638.6, 2861, [0,40], rng(0,40,5), v => fmtNum(v,0), 'Proton Number Density', 'Np(#/cc)', 67);
  line(ax, 'np-line', npMinutes, npValues, '#0000ff', 2.2);
  frame(ax);
}
{
  const ax = tsAxes('proton-temperature-chart', 2973, 3195.4, [0,0.5], rng(0,0.5,0.1), v => v.toFixed(1), [['Proton Temperature and ',''],['T','it'],['e','itsub'],['/',''],['T','it'],['p','itsub']], [['Tp(10',''],['6','sup'],['K)','']], 58);
  line(ax, 'tp-line', minutes, tpValues, '#0000ff', 2.2);
  tsLegend(ax, 124, 2980, 71, 27, [['Tp','#0000ff']], [2993]);
  frame(ax);
}
</script>
</body></html>
